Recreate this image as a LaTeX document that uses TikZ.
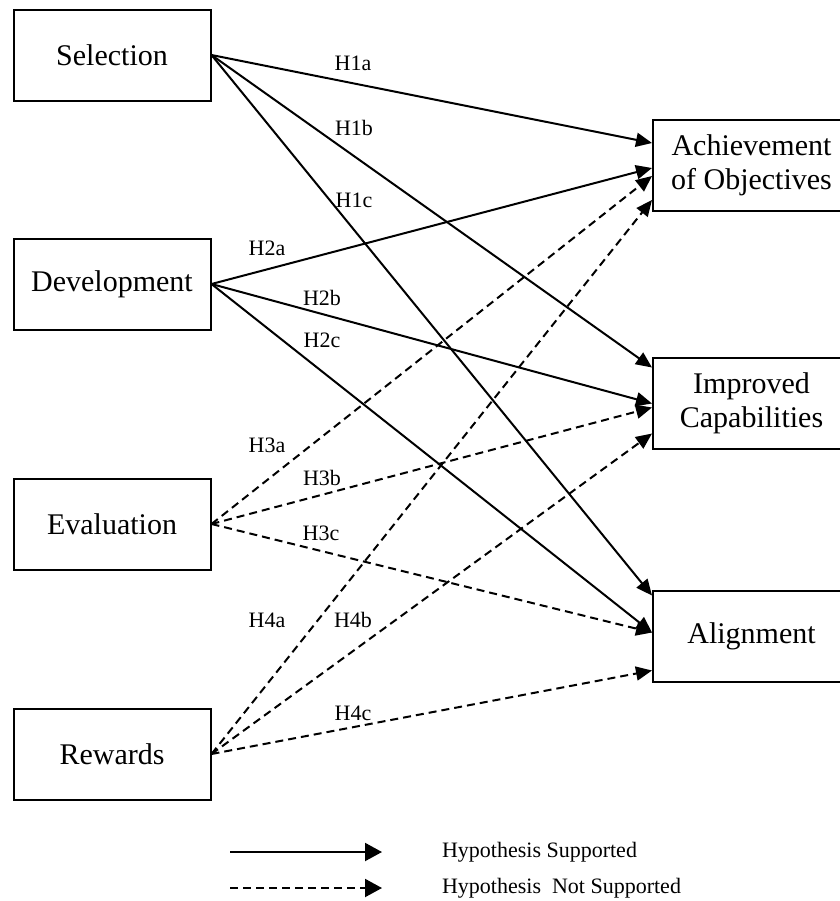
\documentclass[tikz,border=0pt]{standalone}
\usepackage{fontspec}
\setmainfont{Liberation Serif}
\usetikzlibrary{arrows.meta}
\begin{document}
\begin{tikzpicture}[x=0.5pt,y=-0.5pt,
  box/.style={draw,line width=1pt,minimum width=98.5pt,minimum height=45.5pt,
    align=center,font=\fontsize{15}{17}\selectfont},
  hyp/.style={font=\fontsize{11}{13}\selectfont},
  yes/.style={line width=1pt,-{Triangle[length=8pt,width=7pt]}},
  no/.style={yes,dash pattern=on 4pt off 2.5pt}]
\useasboundingbox (0,0) rectangle (840,901);
\clip (0,0) rectangle (840,901);

\node[box] (sel) at (112,55) {Selection};
\node[box] (dev) at (112,284) {Development};
\node[box] (eva) at (112,524) {Evaluation};
\node[box] (rew) at (112,754) {Rewards};

\node[box] (ach) at (751.5,165) {Achievement\\of Objectives};
\node[box] (imp) at (751.5,403.5) {Improved\\Capabilities};
\node[box] (ali) at (751.5,636.5) {Alignment};

\draw[yes] (sel.east) -- ([yshift=11pt]ach.west);
\draw[yes] (sel.east) -- ([yshift=18pt]imp.west);
\draw[yes] (sel.east) -- ([yshift=20.5pt]ali.west);
\draw[yes] (dev.east) -- ([yshift=-1.5pt]ach.west);
\draw[yes] (dev.east) -- (imp.west);
\draw[yes] (dev.east) -- ([yshift=2pt]ali.west);
\draw[no] (eva.east) -- ([yshift=-5.5pt]ach.west);
\draw[no] (eva.east) -- ([yshift=-2pt]imp.west);
\draw[no] (eva.east) -- ([yshift=2pt]ali.west);
\draw[no] (rew.east) -- ([yshift=-17.5pt]ach.west);
\draw[no] (rew.east) -- ([yshift=-15pt]imp.west);
\draw[no] (rew.east) -- ([yshift=-17pt]ali.west);

\node[hyp] (h1a) at (353,63) {H1a};
\node[hyp] (h1b) at (354,128) {H1b};
\node[hyp] (h1c) at (354,200) {H1c};
\node[hyp] (h2a) at (267,248) {H2a};
\node[hyp] (h2b) at (322,298) {H2b};
\node[hyp] (h2c) at (322,340) {H2c};
\node[hyp] (h3a) at (267,445) {H3a};
\node[hyp] (h3b) at (322,478) {H3b};
\node[hyp] (h3c) at (321,533) {H3c};
\node[hyp] (h4a) at (267,620) {H4a};
\node[hyp] (h4b) at (353,620) {H4b};
\node[hyp] (h4c) at (353,713) {H4c};

% legend
\coordinate (l1a) at (230,852);
\coordinate (l1b) at (382,852);
\coordinate (l2a) at (230,888);
\coordinate (l2b) at (382,888);
\draw[line width=1pt,-{Triangle[length=8.5pt,width=9pt]}] (l1a) -- (l1b);
\draw[line width=1pt,dash pattern=on 4pt off 2.5pt,-{Triangle[length=8.5pt,width=9pt]}] (l2a) -- (l2b);
\node[hyp,anchor=west] (sup) at (435,852) {Hypothesis Supported};
\node[hyp,anchor=west] (nsup) at (435,888) {Hypothesis\ \ Not Supported};
\end{tikzpicture}
\end{document}
